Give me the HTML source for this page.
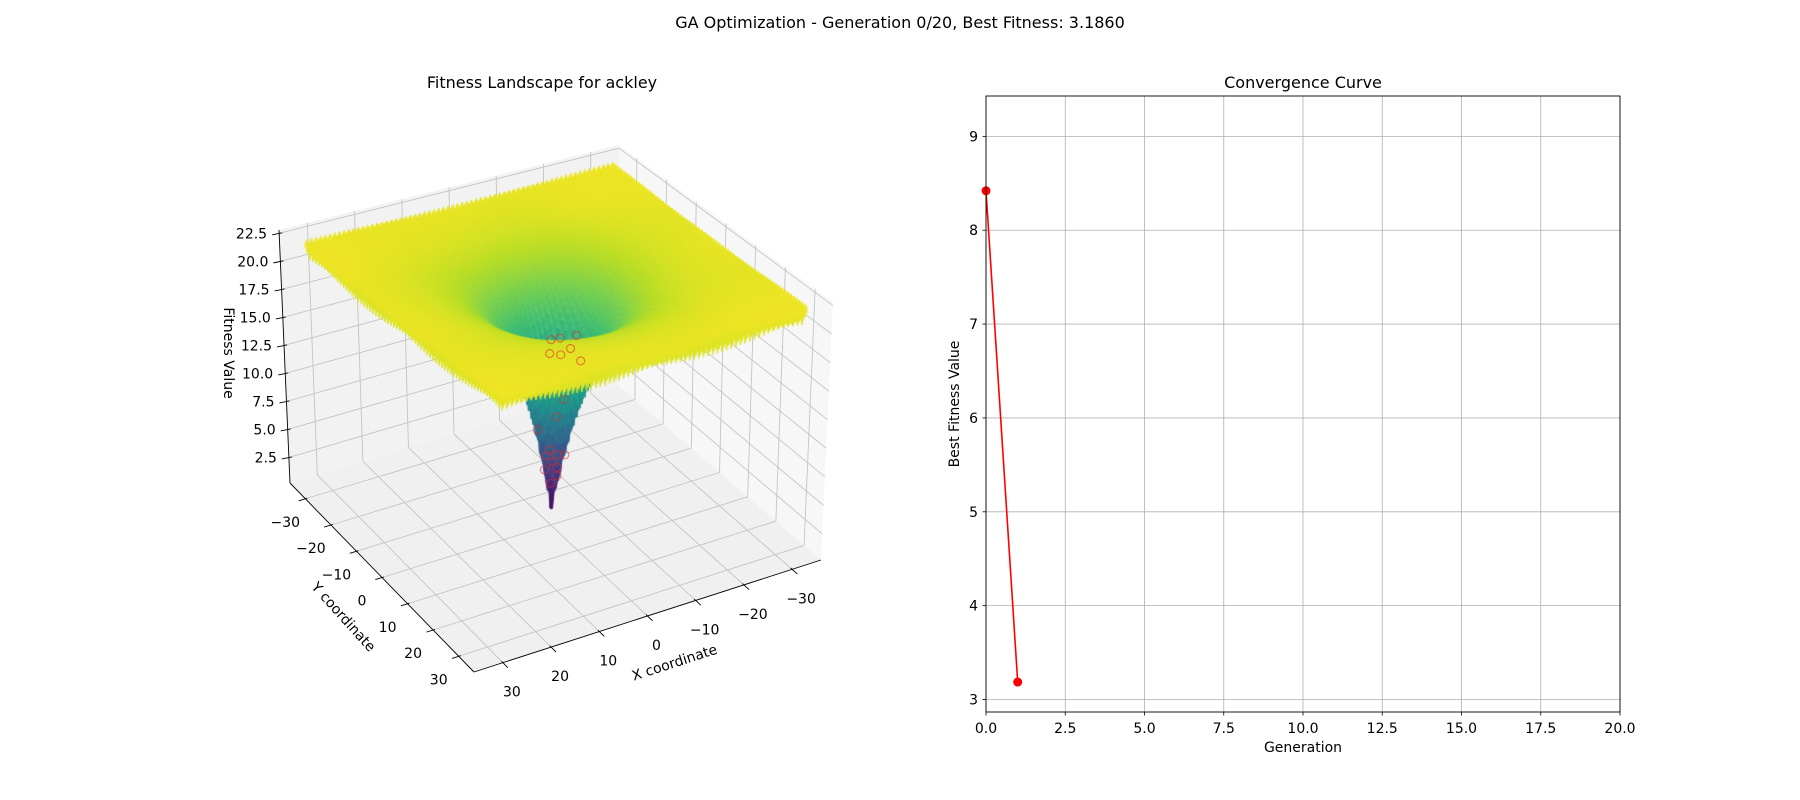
<!DOCTYPE html>
<html><head><meta charset="utf-8"><style>
html,body{margin:0;padding:0;background:#fff;}
#wrap{position:relative;width:1800px;height:800px;overflow:hidden;font-family:"DejaVu Sans","Liberation Sans",sans-serif;}
svg,canvas{position:absolute;left:0;top:0;}
text{font-family:"DejaVu Sans","Liberation Sans",sans-serif;fill:#000;}
</style></head><body>
<div id="wrap">
<svg id="under" width="1800" height="800"></svg>
<canvas id="surf" width="1800" height="800"></canvas>
<svg id="over" width="1800" height="800">
<text x="900" y="28" text-anchor="middle" font-size="16">GA Optimization - Generation 0/20, Best Fitness: 3.1860</text>
<text x="542" y="88" text-anchor="middle" font-size="16">Fitness Landscape for ackley</text>
<text x="1303" y="88" text-anchor="middle" font-size="16">Convergence Curve</text>
</svg>
</div>
<script>
// ---- data ----
const generations = [0, 1];
const bestFitness = [8.42, 3.186];
const convXTicks = [0, 2.5, 5, 7.5, 10, 12.5, 15, 17.5, 20];
const convYTicks = [3, 4, 5, 6, 7, 8, 9];
const popX = [0.5, -0.7, 1.2, -1.4, 1.0, -0.4, 1.7, -1.9, 0.2, 2.3, -2.1, -4.5, -5.5, -6.8, -3.2, -5.0, -7.2, -2.5, -4.0];
const popY = [0.4, 0.6, -0.8, -0.5, 1.5, -1.6, 0.6, 1.2, 2.0, -1.8, -2.4, -5.5, -3.5, -2.0, -6.5, -6.0, -4.2, -5.8, -3.0];
const axisTicks3d = [-30, -20, -10, 0, 10, 20, 30];
const zTicks = [2.5, 5.0, 7.5, 10.0, 12.5, 15.0, 17.5, 20.0, 22.5];

const NS = "http://www.w3.org/2000/svg";
function el(parent, tag, attrs) {
  const e = document.createElementNS(NS, tag);
  for (const k in attrs) e.setAttribute(k, attrs[k]);
  parent.appendChild(e);
  return e;
}
const under = document.getElementById('under');
const over = document.getElementById('over');

// ---- 3D projection ----
const XMIN = -36, XMAX = 36, ZMIN = 0.22, ZMAX = 22.8;
const CB = [618, 385], CL = [290, 483], CF = [474, 672], CR = [821, 560];
const UB = [1, -240], UL = [-11, -253], UF = [24, -275], UR = [12, -258];
function bil(a, b, c, d, u, v) {
  return [
    a[0] * (1 - u) * (1 - v) + b[0] * u * (1 - v) + c[0] * u * v + d[0] * (1 - u) * v,
    a[1] * (1 - u) * (1 - v) + b[1] * u * (1 - v) + c[1] * u * v + d[1] * (1 - u) * v];
}
function proj(x, y, z) {
  const u = (x - XMIN) / (XMAX - XMIN), v = (y - XMIN) / (XMAX - XMIN), w = (z - ZMIN) / (ZMAX - ZMIN);
  const p = bil(CB, CL, CF, CR, u, v), up = bil(UB, UL, UF, UR, u, v);
  return [p[0] + w * up[0], p[1] + w * up[1]];
}
function poly(parent, pts, attrs) {
  attrs.points = pts.map(p => p[0].toFixed(1) + ',' + p[1].toFixed(1)).join(' ');
  return el(parent, 'polygon', attrs);
}
function line(parent, a, b, attrs) {
  attrs.x1 = a[0]; attrs.y1 = a[1]; attrs.x2 = b[0]; attrs.y2 = b[1];
  return el(parent, 'line', attrs);
}
let p;
p = poly(under, [proj(XMIN, XMIN, ZMIN), proj(XMAX, XMIN, ZMIN), proj(XMAX, XMAX, ZMIN), proj(XMIN, XMAX, ZMIN)], {fill: '#f0f0f0'});
 
p = poly(under, [proj(XMIN, XMIN, ZMIN), proj(XMAX, XMIN, ZMIN), proj(XMAX, XMIN, ZMAX), proj(XMIN, XMIN, ZMAX)], {fill: '#f2f2f2'});
 
p = poly(under, [proj(XMIN, XMIN, ZMIN), proj(XMIN, XMAX, ZMIN), proj(XMIN, XMAX, ZMAX), proj(XMIN, XMIN, ZMAX)], {fill: '#f7f7f7'});
 
const gAttr = () => ({stroke: '#c4c4c4', 'stroke-width': 0.9});
axisTicks3d.forEach(t => {
  let l;
  l = line(under, proj(t, XMIN, ZMIN), proj(t, XMAX, ZMIN), gAttr());
   
  l = line(under, proj(XMIN, t, ZMIN), proj(XMAX, t, ZMIN), gAttr());
   
  l = line(under, proj(t, XMIN, ZMIN), proj(t, XMIN, ZMAX), gAttr());
   
  l = line(under, proj(XMIN, t, ZMIN), proj(XMIN, t, ZMAX), gAttr());
   
});
zTicks.forEach(t => {
  let l;
  l = line(under, proj(XMAX, XMIN, t), proj(XMIN, XMIN, t), gAttr());
   
  l = line(under, proj(XMIN, XMIN, t), proj(XMIN, XMAX, t), gAttr());
   
});

// ---- surface ----
function ackley(x, y) {
  return -20 * Math.exp(-0.2 * Math.sqrt(0.5 * (x * x + y * y))) - Math.exp(0.5 * (Math.cos(2 * Math.PI * x) + Math.cos(2 * Math.PI * y))) + Math.E + 20;
}
const VIR = ['#440154', '#482475', '#414487', '#355f8d', '#2a788e', '#21918c', '#22a884', '#44bf70', '#7ad151', '#bddf26', '#fde725'];
const VIRrgb = VIR.map(h => [parseInt(h.substr(1, 2), 16), parseInt(h.substr(3, 2), 16), parseInt(h.substr(5, 2), 16)]);
function viridis(t) {
  t = Math.max(0, Math.min(1, t)) * 10;
  const i = Math.min(9, Math.floor(t)), f = t - i;
  const a = VIRrgb[i], b = VIRrgb[i + 1];
  return [0, 1, 2].map(k => Math.round(a[k] + (b[k] - a[k]) * f));
}
const N = 200, R0 = 32.768;
const gx = [], Z = [];
for (let i = 0; i < N; i++) gx.push(-R0 + 2 * R0 * i / (N - 1));
let zmin = 1e9, zmax = -1e9;
for (let i = 0; i < N; i++) { Z.push([]); for (let j = 0; j < N; j++) { const z = ackley(gx[i], gx[j]); Z[i].push(z); zmin = Math.min(zmin, z); zmax = Math.max(zmax, z); } }
const quads = [];
for (let i = 0; i < N - 1; i++) for (let j = 0; j < N - 1; j++) {
  const zavg = (Z[i][j] + Z[i + 1][j] + Z[i][j + 1] + Z[i + 1][j + 1]) / 4;
  quads.push({i, j, zavg, depth: gx[i] + gx[j]});
}
quads.sort((a, b) => a.depth - b.depth);
const ctx = document.getElementById('surf').getContext('2d');
ctx.lineWidth = 0.5;
ctx.lineJoin = 'round';
quads.forEach(q => {
  const {i, j} = q;
  const pts = [proj(gx[i], gx[j], Z[i][j]), proj(gx[i + 1], gx[j], Z[i + 1][j]), proj(gx[i + 1], gx[j + 1], Z[i + 1][j + 1]), proj(gx[i], gx[j + 1], Z[i][j + 1])];
  const c = viridis((q.zavg - zmin) / (zmax - zmin));
  const col = 'rgba(' + c[0] + ',' + c[1] + ',' + c[2] + ',0.93)';
  ctx.fillStyle = col; ctx.strokeStyle = col;
  ctx.beginPath(); ctx.moveTo(pts[0][0], pts[0][1]);
  for (let k = 1; k < 4; k++) ctx.lineTo(pts[k][0], pts[k][1]);
  ctx.closePath(); ctx.fill(); ctx.stroke();
});

// ---- population points ----
popX.forEach((x, k) => {
  const pt = proj(x, popY[k], ackley(x, popY[k]));
  const c = el(over, 'circle', {cx: pt[0].toFixed(1), cy: pt[1].toFixed(1), r: 4, fill: 'none', stroke: '#e8262a', 'stroke-opacity': 0.55, 'stroke-width': 1.2});
  
  
});

// ---- 3D axes ----
let ax;
ax = line(over, proj(XMAX, XMIN, ZMIN), proj(XMAX, XMAX, ZMIN), {stroke: '#000', 'stroke-width': 0.9});
 
ax = line(over, proj(XMAX, XMAX, ZMIN), proj(XMIN, XMAX, ZMIN), {stroke: '#000', 'stroke-width': 0.9});
 
ax = line(over, proj(XMAX, XMIN, ZMIN), proj(XMAX, XMIN, ZMAX), {stroke: '#000', 'stroke-width': 0.9});
 
function unit(a, b) { const dx = b[0] - a[0], dy = b[1] - a[1], l = Math.hypot(dx, dy); return [dx / l, dy / l]; }
axisTicks3d.forEach(t => {
  const py = proj(XMAX, t, ZMIN);
  const dy = unit(proj(XMIN, t, ZMIN), py);
  let l = line(over, [py[0] - dy[0] * 2, py[1] - dy[1] * 2], [py[0] + dy[0] * 7, py[1] + dy[1] * 7], {stroke: '#000', 'stroke-width': 0.9});
   
  let tx = el(over, 'text', {x: (py[0] - 20).toFixed(1), y: (py[1] + 28).toFixed(1), 'text-anchor': 'middle', 'font-size': 14});
  tx.textContent = (t < 0 ? '\u2212' + (-t) : '' + t);
   
  const px = proj(t, XMAX, ZMIN);
  const dx = unit(proj(t, XMIN, ZMIN), px);
  l = line(over, [px[0] - dx[0] * 2, px[1] - dx[1] * 2], [px[0] + dx[0] * 7, px[1] + dx[1] * 7], {stroke: '#000', 'stroke-width': 0.9});
   
  tx = el(over, 'text', {x: (px[0] + 9).toFixed(1), y: (px[1] + 34).toFixed(1), 'text-anchor': 'middle', 'font-size': 14});
  tx.textContent = (t < 0 ? '\u2212' + (-t) : '' + t);
   
});
zTicks.forEach(t => {
  const pz = proj(XMAX, XMIN, t);
  let l = line(over, [pz[0] - 7, pz[1] + 1.5], [pz[0] + 3, pz[1] - 0.5], {stroke: '#000', 'stroke-width': 0.9});
   
  const tx = el(over, 'text', {x: (pz[0] - 12).toFixed(1), y: (pz[1] + 5).toFixed(1), 'text-anchor': 'end', 'font-size': 14});
  tx.textContent = t.toFixed(1);
   
});
let lab;
lab = el(over, 'text', {x: 0, y: 0, transform: 'translate(224,353) rotate(90)', 'text-anchor': 'middle', 'font-size': 14});
lab.textContent = 'Fitness Value';  
lab = el(over, 'text', {x: 0, y: 0, transform: 'translate(340,620) rotate(48)', 'text-anchor': 'middle', 'font-size': 14});
lab.textContent = 'Y coordinate';  
lab = el(over, 'text', {x: 0, y: 0, transform: 'translate(676,667) rotate(-18)', 'text-anchor': 'middle', 'font-size': 14});
lab.textContent = 'X coordinate';  

// ---- convergence chart ----
const CL0 = 986, CR0 = 1620, CT = 96, CBt = 712;
const CXMIN = 0, CXMAX = 20, CYMIN = 2.867, CYMAX = 9.43;
const sx = v => CL0 + (v - CXMIN) / (CXMAX - CXMIN) * (CR0 - CL0);
const sy = v => CBt - (v - CYMIN) / (CYMAX - CYMIN) * (CBt - CT);
convXTicks.forEach(t => {
  let l = line(over, [sx(t), CT], [sx(t), CBt], {stroke: '#b0b0b0', 'stroke-width': 0.8});
   
  l = line(over, [sx(t), CBt], [sx(t), CBt + 3.5], {stroke: '#000', 'stroke-width': 0.8});
   
  const tx = el(over, 'text', {x: sx(t), y: CBt + 21, 'text-anchor': 'middle', 'font-size': 14});
  tx.textContent = t.toFixed(1);
   
});
convYTicks.forEach(t => {
  let l = line(over, [CL0, sy(t)], [CR0, sy(t)], {stroke: '#b0b0b0', 'stroke-width': 0.8});
   
  l = line(over, [CL0 - 3.5, sy(t)], [CL0, sy(t)], {stroke: '#000', 'stroke-width': 0.8});
   
  const tx = el(over, 'text', {x: CL0 - 8, y: sy(t) + 5, 'text-anchor': 'end', 'font-size': 14});
  tx.textContent = '' + t;
   
});
const pl = el(over, 'polyline', {points: generations.map((g, k) => sx(g) + ',' + sy(bestFitness[k])).join(' '), fill: 'none', stroke: '#ff0000', 'stroke-width': 1.6});
 
generations.forEach((g, k) => {
  const c = el(over, 'circle', {cx: sx(g), cy: sy(bestFitness[k]), r: 4.5, fill: '#ff0000'});
   
});
const frame = el(over, 'rect', {x: CL0, y: CT, width: CR0 - CL0, height: CBt - CT, fill: 'none', stroke: '#000', 'stroke-width': 0.9});
 
lab = el(over, 'text', {x: 1303, y: 752, 'text-anchor': 'middle', 'font-size': 14});
lab.textContent = 'Generation';  
lab = el(over, 'text', {x: 0, y: 0, transform: 'translate(959,404) rotate(-90)', 'text-anchor': 'middle', 'font-size': 14});
lab.textContent = 'Best Fitness Value';  
</script>
</body></html>
